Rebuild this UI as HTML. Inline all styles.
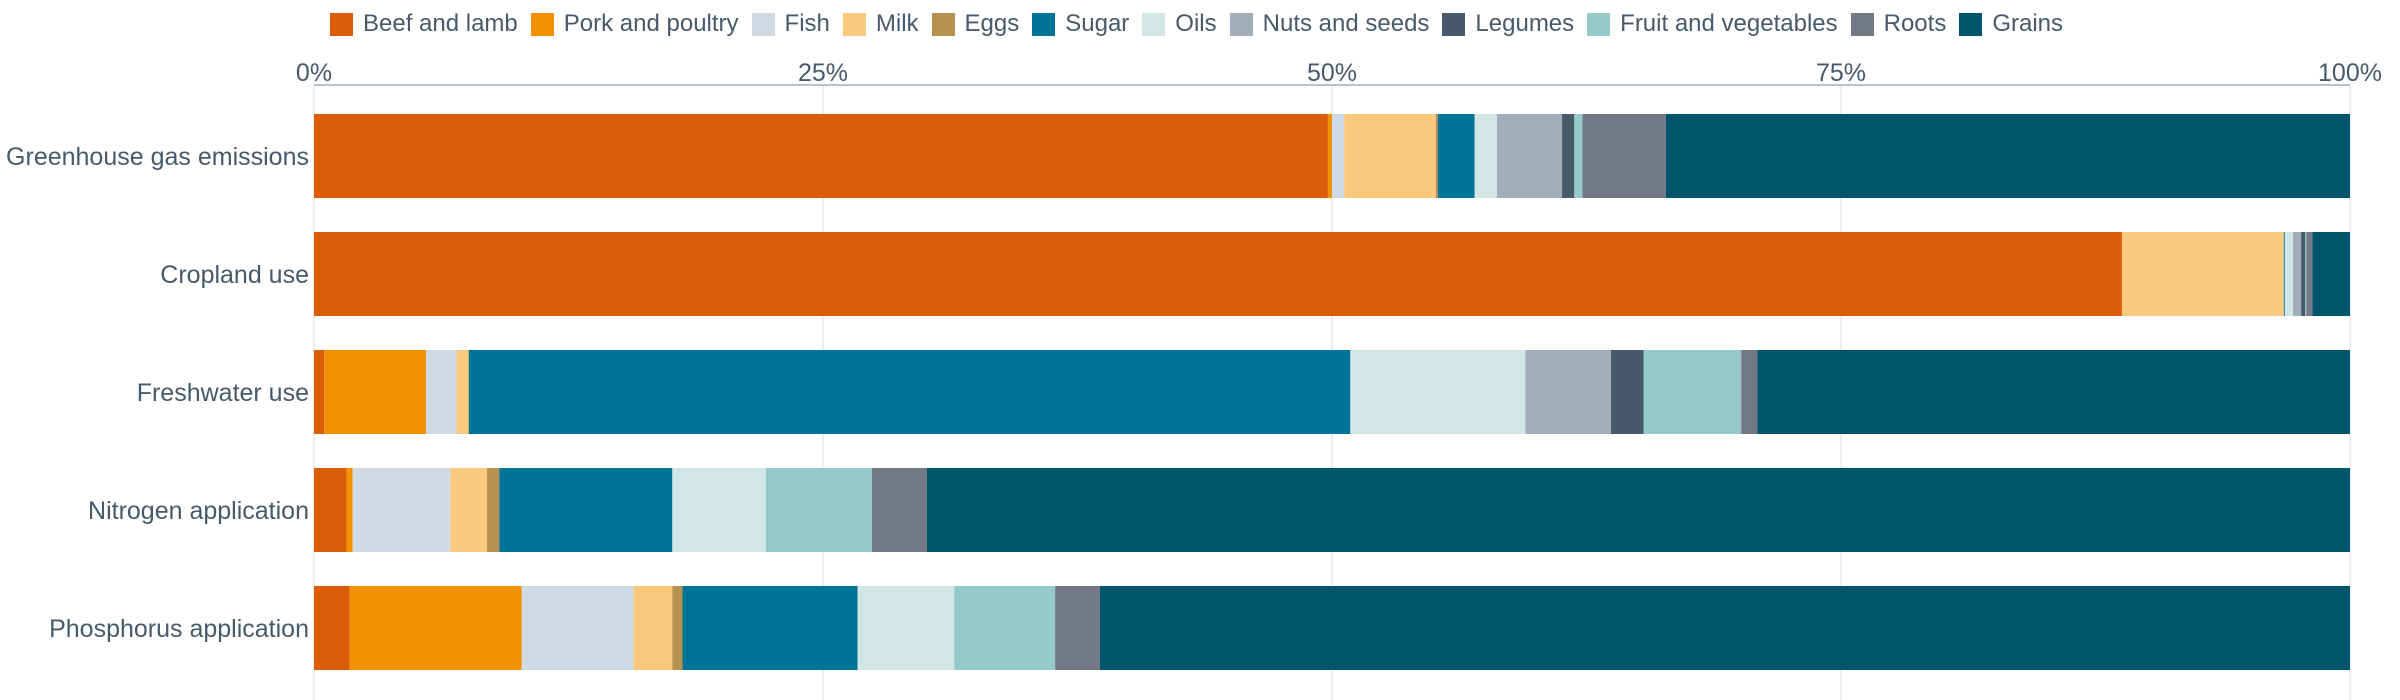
<!DOCTYPE html>
<html><head><meta charset="utf-8">
<style>
body{margin:0;width:2400px;height:700px;background:#fff;font-family:"Liberation Sans",sans-serif;color:#475a6b;overflow:hidden;position:relative}
#legend{position:absolute;left:330px;top:10px;display:flex;align-items:center;font-size:24px;white-space:nowrap}
.li{display:flex;align-items:center;margin-right:13px}
.sw{width:23px;height:23px;margin-right:10px}
</style></head><body>
<div id="legend"></div>
<svg id="chart" width="2400" height="700" style="position:absolute;left:0;top:0"></svg>
<script>
const categories=["Greenhouse gas emissions","Cropland use","Freshwater use","Nitrogen application","Phosphorus application"];
const seriesNames=["Beef and lamb","Pork and poultry","Fish","Milk","Eggs","Sugar","Oils","Nuts and seeds","Legumes","Fruit and vegetables","Roots","Grains"];
const colors=["#dd5c0a","#f29000","#cfdae5","#fbc97d","#b8904f","#007497","#d1e7e5","#a1adb9","#475a6b","#95caca","#737985","#00546b"];
const ghg=[49.8,0.2,0.6,4.5,0.1,1.8,1.1,3.2,0.6,0.4,4.1,33.6];
const cropland=[88.8,0,0,7.95,0,0.05,0.4,0.4,0.2,0.05,0.3,1.85];
const freshwater=[0.5,5.0,1.5,0.6,0,43.3,8.6,4.2,1.6,4.8,0.8,29.1];
const nitrogen=[1.6,0.3,4.8,1.8,0.6,8.5,4.6,0,0,5.2,2.7,69.9];
const phosphorus=[1.75,8.45,5.5,1.9,0.5,8.6,4.75,0,0,4.95,2.2,61.4];
const rows=[ghg,cropland,freshwater,nitrogen,phosphorus];
const ticks=[0,25,50,75,100];
const tickLabels=["0%","25%","50%","75%","100%"];

const X0=314,X1=2350,TOP=114,PITCH=118,BH=84;
const x=v=>X0+(X1-X0)*v/100;
const yb=i=>TOP+i*PITCH;
const NS="http://www.w3.org/2000/svg";
const svg=document.getElementById('chart');
function mk(t,a){const e=document.createElementNS(NS,t);for(const k in a)e.setAttribute(k,a[k]);svg.appendChild(e);return e;}

ticks.forEach((t,i)=>{
  const g=mk('line',{x1:x(t),x2:x(t),y1:86,y2:700,stroke:'#eeeeee','stroke-width':2});
  
  
  const tl=mk('text',{x:x(t),y:81,'text-anchor':'middle','font-size':25,fill:'#475a6b'});
  tl.textContent=tickLabels[i];
  
  
});
const ax=mk('line',{x1:X0,x2:X1,y1:85,y2:85,stroke:'#b8c2cc','stroke-width':2});



rows.forEach((vals,i)=>{
  let acc=0;
  vals.forEach((v,j)=>{
    if(v>0){
      const r=mk('rect',{x:x(acc),y:yb(i),width:x(acc+v)-x(acc),height:BH,fill:colors[j]});
      
      
    }
    acc+=v;
  });
  const l=mk('text',{x:309,y:yb(i)+BH/2+9,'text-anchor':'end','font-size':25,fill:'#475a6b'});
  l.textContent=categories[i];
  
  
});

const lg=document.getElementById('legend');
seriesNames.forEach((n,j)=>{
  const d=document.createElement('div');d.className='li';
  
  
  const s=document.createElement('div');s.className='sw';s.style.background=colors[j];
  const t=document.createElement('span');t.textContent=n;
  d.appendChild(s);d.appendChild(t);lg.appendChild(d);
});
</script>
</body></html>
